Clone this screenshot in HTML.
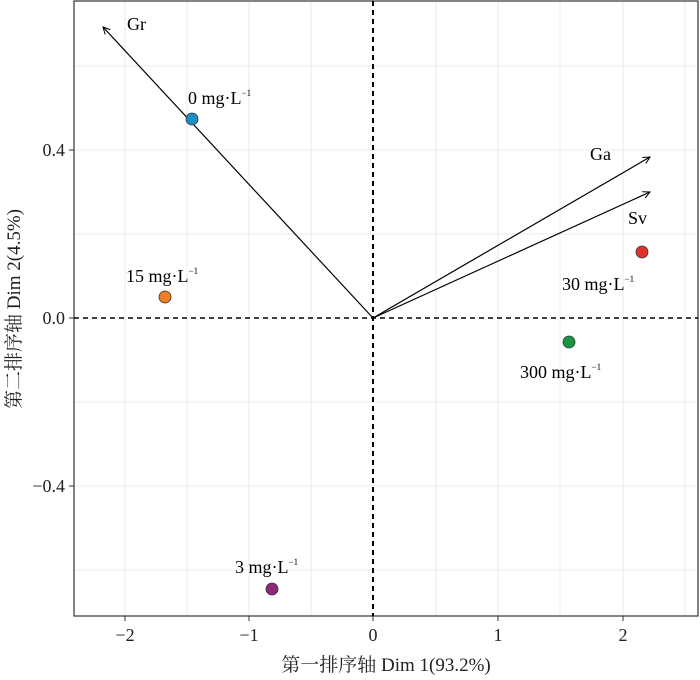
<!DOCTYPE html>
<html><head><meta charset="utf-8"><style>body{margin:0;background:#fff}svg{display:block}</style></head><body>
<svg width="700" height="680" xmlns="http://www.w3.org/2000/svg" font-family="Liberation Serif, Noto Serif CJK SC, serif">
<defs><marker id="a" markerWidth="8" markerHeight="8" refX="7" refY="4" orient="auto" markerUnits="userSpaceOnUse"><path d="M0,0.5 L7,4 L0,7.5" fill="none" stroke="#000" stroke-width="1"/></marker></defs>
<g stroke="#ebebeb" stroke-width="1">
<line x1="125" y1="2" x2="125" y2="616"/><line x1="187" y1="2" x2="187" y2="616"/><line x1="249" y1="2" x2="249" y2="616"/><line x1="311" y1="2" x2="311" y2="616"/><line x1="436" y1="2" x2="436" y2="616"/><line x1="498" y1="2" x2="498" y2="616"/><line x1="560" y1="2" x2="560" y2="616"/><line x1="623" y1="2" x2="623" y2="616"/><line x1="685" y1="2" x2="685" y2="616"/>
<line x1="74" y1="66" x2="698" y2="66"/><line x1="74" y1="150" x2="698" y2="150"/><line x1="74" y1="234" x2="698" y2="234"/><line x1="74" y1="402" x2="698" y2="402"/><line x1="74" y1="486" x2="698" y2="486"/><line x1="74" y1="570" x2="698" y2="570"/>
</g>
<rect x="74" y="1" width="624" height="615" fill="none" stroke="#333" stroke-width="1.2"/>
<line x1="373" y1="1" x2="373" y2="616" stroke="#000" stroke-width="2" stroke-dasharray="5,4"/>
<line x1="74" y1="318" x2="698" y2="318" stroke="#000" stroke-width="1.5" stroke-dasharray="5,4"/>
<g stroke="#000" stroke-width="1.2" marker-end="url(#a)">
<line x1="373" y1="318" x2="103" y2="27"/><line x1="373" y1="318" x2="650" y2="157"/><line x1="373" y1="318" x2="650" y2="192"/>
</g>
<g stroke="#333" stroke-width="0.8">
<circle cx="192" cy="119" r="6" fill="#1a8fc4"/><circle cx="165" cy="297" r="6" fill="#ef7f22"/><circle cx="272" cy="589" r="6" fill="#8e2a7c"/><circle cx="642" cy="252" r="6" fill="#e0322c"/><circle cx="569" cy="342" r="6" fill="#1a9540"/>
</g>
<g font-size="18" fill="#000">
<text x="127" y="30">Gr</text><text x="590" y="160">Ga</text><text x="628" y="224">Sv</text>
<text x="188" y="104">0 mg·L<tspan font-size="9" dy="-8">−1</tspan></text>
<text x="126" y="282">15 mg·L<tspan font-size="9" dy="-8">−1</tspan></text>
<text x="235" y="573">3 mg·L<tspan font-size="9" dy="-8">−1</tspan></text>
<text x="562" y="290">30 mg·L<tspan font-size="9" dy="-8">−1</tspan></text>
<text x="520" y="378">300 mg·L<tspan font-size="9" dy="-8">−1</tspan></text>
</g>
<g stroke="#333"><line x1="69" y1="150" x2="74" y2="150"/><line x1="69" y1="318" x2="74" y2="318"/><line x1="69" y1="486" x2="74" y2="486"/>
<line x1="125" y1="616" x2="125" y2="621"/><line x1="249" y1="616" x2="249" y2="621"/><line x1="373" y1="616" x2="373" y2="621"/><line x1="498" y1="616" x2="498" y2="621"/><line x1="623" y1="616" x2="623" y2="621"/></g>
<g font-size="18" fill="#222" text-anchor="middle">
<text x="125" y="641">−2</text><text x="249" y="641">−1</text><text x="373" y="641">0</text><text x="498" y="641">1</text><text x="623" y="641">2</text>
</g>
<g font-size="18" fill="#222" text-anchor="end">
<text x="65" y="156">0.4</text><text x="65" y="324">0.0</text><text x="65" y="492">−0.4</text>
</g>
<text x="386" y="671" font-size="19" text-anchor="middle" fill="#222">第一排序轴 Dim 1(93.2%)</text>
<text transform="translate(20,309) rotate(-90)" font-size="19" text-anchor="middle" fill="#222">第二排序轴 Dim 2(4.5%)</text>
</svg>
</body></html>
